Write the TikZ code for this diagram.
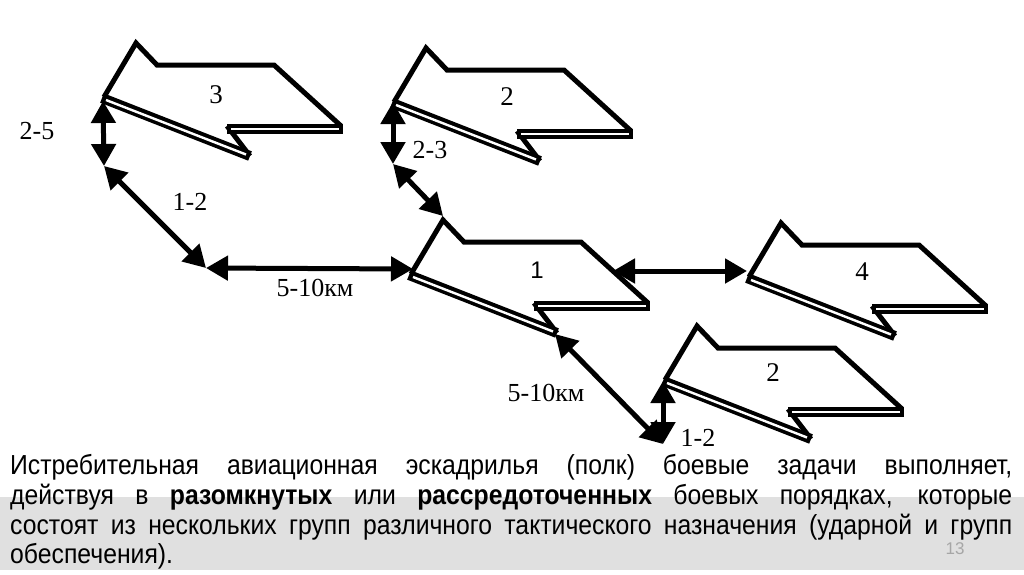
\documentclass[tikz,border=0pt]{standalone}
\usepackage{fontspec}
\setmainfont{Liberation Serif}
\newfontfamily\arialfont[FakeStretch=0.9]{Liberation Sans}
\newfontfamily\arialplain{Liberation Sans}
\usetikzlibrary{arrows.meta}
\newcommand\wingarrow[2]{% x, y of the tail point
 \begin{scope}[shift={(#1,#2)}]
  \fill[white] (0,0) -- (33,-52) -- (54,-30) -- (171,-30) -- (237,31) -- (237,38) -- (124,38) -- (145,62) -- cycle;
  \draw[outl] (1,2) -- (33,-52) -- (54,-30) -- (171,-30) -- (237,30) -- (237,34);
  \draw[outl] (124,31) -- (147,61);
  \draw[band] (124,34) -- (239.5,34);
  \draw[band] (-1,3) -- (147,61);
  \draw[bandin] (128,34) -- (235.5,34);
  \draw[bandin] (3,5) -- (143,59.5);
 \end{scope}}
\begin{document}
\begin{tikzpicture}[x=1pt,y=-1pt,
  outl/.style={line width=5pt,line join=miter,miter limit=10},
  band/.style={line width=10pt,line cap=butt},
  bandin/.style={line width=2.4pt,white,line cap=butt},
  dim/.style={line width=5pt,{Triangle[length=22pt,width=24pt]}-{Triangle[length=22pt,width=24pt]}},
  lbl/.style={font=\fontsize{26}{28}\selectfont, inner sep=0pt},
  num/.style={font=\fontsize{27}{30}\selectfont, inner sep=0pt},
  txt/.style={font=\arialfont\fontsize{27.5}{30}\selectfont, inner sep=0pt, anchor=base west},
]
\useasboundingbox (0,0) rectangle (1024,574);
\fill[white] (0,0) rectangle (1024,574);
\fill[black!12] (0,497) rectangle (1024,570);

% formation arrows
\wingarrow{103}{95}
\wingarrow{393}{100}
\wingarrow{410}{272}
\wingarrow{748}{275}
\wingarrow{664}{378}

\node[num] (n3) at (216,95) {3};
\node[num] (n2a) at (507,97) {2};
\node[num, font=\arialplain\fontsize{24}{26}\selectfont] (n1) at (537,270) {1};
\node[num] (n4) at (862,272) {4};
\node[num] (n2b) at (773,373) {2};

% connector points
\coordinate (t3) at (103,101);
\coordinate (p1) at (104,166);
\coordinate (p2) at (206,268);
\coordinate (t1w) at (413,269);
\coordinate (t2) at (393,102);
\coordinate (p3) at (393,164);
\coordinate (s1) at (443,216);
\coordinate (h1) at (613,271);
\coordinate (t4) at (747,271);
\coordinate (q1) at (555,334);
\coordinate (p4) at (663,444);
\coordinate (t2b) at (663,381);

\draw[dim] (t3) -- (p1);
\draw[dim] (p1) -- (p2);
\draw[dim] (p2) -- (t1w);
\draw[dim] (t2) -- (p3);
\draw[dim] (p3) -- (s1);
\draw[dim] (h1) -- (t4);
\draw[dim] (q1) -- (p4);
\draw[dim] (t2b) -- (p4);

% distance labels
\node[lbl] (d25) at (37,131) {2-5};
\node[lbl] (d12a) at (190,202) {1-2};
\node[lbl] (d510a) at (315,288) {5-10км};
\node[lbl] (d23) at (430,150) {2-3};
\node[lbl] (d510b) at (546,393) {5-10км};
\node[lbl] (d12b) at (698,438) {1-2};

% caption text
\node[txt] (l1) at (10,474) {\makebox[1002pt][s]{Истребительная авиационная эскадрилья (полк) боевые задачи выполняет,}};
\node[txt] (l2) at (10,504) {\makebox[1002pt][s]{действуя в \textbf{разомкнутых} или \textbf{рассредоточенных} боевых порядках, которые}};
\node[txt] (l3) at (10,534) {\makebox[1002pt][s]{состоят из нескольких групп различного тактического назначения (ударной и групп}};
\node[txt] (l4) at (10,563) {обеспечения).};
\node[font=\arialplain\fontsize{17}{20}\selectfont, text=black!35, inner sep=0pt] (pg) at (955,549) {13};
\end{tikzpicture}
\end{document}
